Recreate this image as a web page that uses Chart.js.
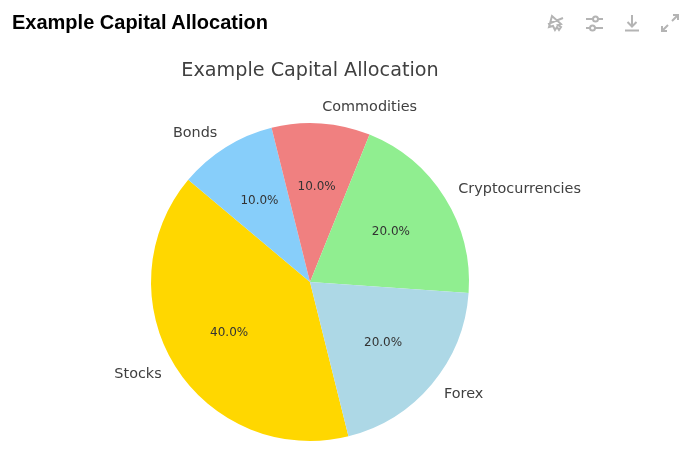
<!DOCTYPE html>
<html>
<head>
<meta charset="utf-8">
<title>Example Capital Allocation</title>
<script src="https://cdn.jsdelivr.net/npm/chart.js@4"></script>
<style>
    html, body { margin: 0; padding: 0; background: #fff; overflow: hidden; }
    #page { position: relative; width: 689px; height: 476px; }
    #heading {
        position: absolute; left: 12px; top: 11px; margin: 0;
        font: bold 20px "Liberation Sans", Arial, sans-serif; color: #000; line-height: 22px;
    }
    #chart { position: absolute; left: 0; top: 0; }
    .icon { position: absolute; top: 13px; width: 20px; height: 20px; fill: none; stroke: #b4b4b4; stroke-width: 2; }
</style>
</head>
<body>
<div id="page">
    <canvas id="chart" width="620" height="476"></canvas>
    <h1 id="heading">Example Capital Allocation</h1>
    <svg class="icon" style="left:545px" viewBox="0 0 20 20"><path d="M7 3l-3 11 4-1 2 4 2-3 2 3 2-3-3-2 3-1zM3 11l15-6"/></svg>
    <svg class="icon" style="left:585px" viewBox="0 0 20 20"><path d="M1 6h7M13 6h5M1 15h4M10 15h8"/><circle cx="10.500" cy="6" r="2.500"/><circle cx="7.500" cy="15" r="2.500"/></svg>
    <svg class="icon" style="left:622px" viewBox="0 0 20 20"><path d="M10 2v11M5.500 9l4.500 4.500L14.500 9M3 17.500h14"/></svg>
    <svg class="icon" style="left:660px" viewBox="0 0 20 20"><path d="M12 8l6-6M13 2h5v5M8 12l-6 6M2 13v5h5"/></svg>
</div>
<script>
const chartTitle = 'Example Capital Allocation';
const categories = ['Stocks', 'Bonds', 'Commodities', 'Cryptocurrencies', 'Forex'];
const allocation = [40, 10, 10, 20, 20];
const sliceColors = ['#FFD700', '#87CEFA', '#F08080', '#90EE90', '#ADD8E6'];

// pie labels sit outside the slice, percentages inside it
const sliceLabels = {
    id: 'sliceLabels',
    afterDatasetsDraw(chart) {
        const ctx = chart.ctx;
        const total = allocation.reduce((a, b) => a + b, 0);
        ctx.save();
        chart.getDatasetMeta(0).data.forEach((arc, i) => {
            const mid = (arc.startAngle + arc.endAngle) / 2;
            const r = arc.outerRadius;
            const cos = Math.cos(mid);
            const sin = Math.sin(mid);

            ctx.textBaseline = 'middle';
            ctx.font = '14.4px "DejaVu Sans"';
            ctx.fillStyle = '#404040';
            ctx.textAlign = cos > 0 ? 'left' : 'right';
            ctx.fillText(categories[i], arc.x + cos * r * 1.1, arc.y + sin * r * 1.1);

            ctx.font = '12px "DejaVu Sans"';
            ctx.fillStyle = '#333333';
            ctx.textAlign = 'center';
            const pct = (allocation[i] / total * 100).toFixed(1) + '%';
            ctx.fillText(pct, arc.x + cos * r * 0.6, arc.y + sin * r * 0.6);
        });
        ctx.restore();
    }
};

new Chart(document.getElementById('chart'), {
    type: 'pie',
    data: {
        labels: categories,
        datasets: [{
            data: allocation,
            backgroundColor: sliceColors,
            borderWidth: 0
        }]
    },
    options: {
        responsive: false,
        animation: false,
        rotation: 166,
        layout: { padding: { left: 151, right: 151, bottom: 35 } },
        plugins: {
            legend: { display: false },
            tooltip: { enabled: false },
            title: {
                display: true,
                text: chartTitle,
                color: '#404040',
                font: { family: '"DejaVu Sans"', size: 19.2, weight: 'normal' },
                padding: { top: 59, bottom: 41 }
            }
        }
    },
    plugins: [sliceLabels]
});
</script>
</body>
</html>
